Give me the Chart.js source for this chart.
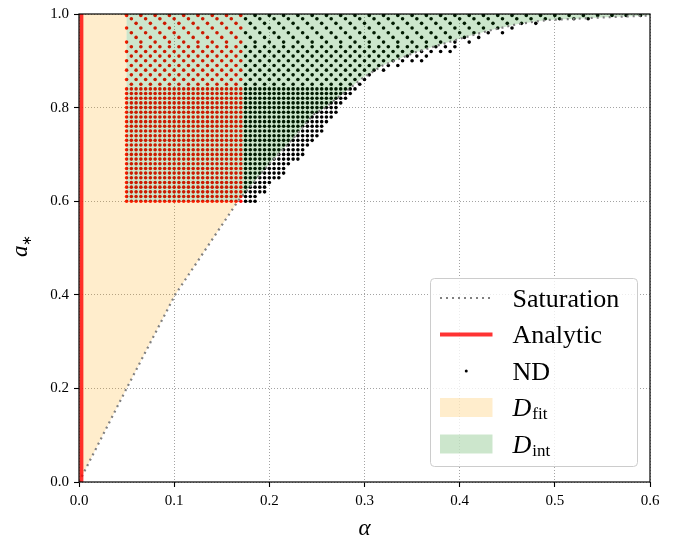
<!DOCTYPE html>
<html>
<head>
<meta charset="utf-8">
<script src="https://cdn.jsdelivr.net/npm/chart.js@4.4.0/dist/chart.umd.min.js"></script>
<style>
    html, body { margin: 0; padding: 0; background: #fff; }
    #wrap { width: 688px; height: 541px; }
</style>
</head>
<body>
<div id="wrap"><canvas id="chart"></canvas></div>
<script>
// Saturation curve
const satAlpha = [0, 0.05, 0.101, 0.167, 0.2, 0.229, 0.246, 0.259, 0.298, 0.319, 0.353, 0.4, 0.43, 0.46, 0.491, 0.523, 0.554, 0.6]
const satSpin = [0, 0.2, 0.4, 0.6, 0.68, 0.743, 0.785, 0.8, 0.863, 0.89, 0.918, 0.947, 0.964, 0.978, 0.987, 0.99, 0.993, 0.997]

// Analytic line (small alpha)
const analyticAlpha = [0.0025, 0.0025]
const analyticSpin = [0, 1]

// Region limits
const fitAlphaMax = 0.05
const intSpinMin = 0.6
const ndRedMax = 0.17

// ND grid: columns, rows, per-row column stride, offset and right end
const ndAlpha = [
    0.05, 0.055, 0.06, 0.065, 0.07, 0.075, 0.08, 0.085, 0.09, 0.095,
    0.1, 0.105, 0.11, 0.115, 0.12, 0.125, 0.13, 0.135, 0.14, 0.145,
    0.15, 0.155, 0.16, 0.165, 0.17, 0.175, 0.18, 0.185, 0.19, 0.195,
    0.2, 0.205, 0.21, 0.215, 0.22, 0.225, 0.23, 0.235, 0.24, 0.245,
    0.25, 0.255, 0.26, 0.265, 0.27, 0.275, 0.28, 0.285, 0.29, 0.295,
    0.3, 0.305, 0.31, 0.315, 0.32, 0.325, 0.33, 0.335, 0.34, 0.345,
    0.35, 0.355, 0.36, 0.365, 0.37, 0.375, 0.38, 0.385, 0.39, 0.395,
    0.4, 0.405, 0.41, 0.415, 0.42, 0.425, 0.43, 0.435, 0.44, 0.445,
    0.45, 0.455, 0.46, 0.465, 0.47, 0.475, 0.48, 0.485, 0.49, 0.495,
    0.5, 0.505, 0.51, 0.515, 0.52, 0.525, 0.53, 0.535, 0.54, 0.545,
    0.55, 0.555, 0.56, 0.565, 0.57, 0.575, 0.58, 0.585, 0.59, 0.595, 0.6
]
const ndSpin = [
    0.6, 0.61, 0.62, 0.63, 0.64, 0.65, 0.66, 0.67, 0.68, 0.69,
    0.7, 0.71, 0.72, 0.73, 0.74, 0.75, 0.76, 0.77, 0.78, 0.79,
    0.8, 0.81, 0.82, 0.83, 0.84, 0.85, 0.86, 0.87, 0.88, 0.89,
    0.9, 0.91, 0.92, 0.93, 0.94, 0.95, 0.96, 0.97, 0.98, 0.99, 0.997
]
const ndStride = [
    1, 1, 1, 1, 1, 1, 1, 1, 1, 1,
    1, 1, 1, 1, 1, 1, 1, 1, 1, 1,
    1, 1, 1, 1, 1, 2, 2, 2, 2, 2,
    2, 2, 2, 2, 3, 3, 3, 3, 3, 3, 3
]
const ndOffset = [
    0, 0, 0, 0, 0, 0, 0, 0, 0, 0,
    0, 0, 0, 0, 0, 0, 0, 0, 0, 0,
    0, 0, 0, 0, 0, 1, 0, 1, 0, 1,
    0, 1, 0, 1, 0, 1, 2, 0, 1, 2, 0
]
const ndEnd = [
    0.185, 0.189, 0.195, 0.199, 0.204, 0.21, 0.215, 0.219, 0.224, 0.23,
    0.235, 0.239, 0.243, 0.247, 0.251, 0.255, 0.258, 0.261, 0.265, 0.27,
    0.274, 0.279, 0.284, 0.289, 0.294, 0.3, 0.305, 0.312, 0.325, 0.34,
    0.36, 0.372, 0.39, 0.4, 0.414, 0.43, 0.45, 0.468, 0.49, 0.545, 0.6
]

// Colours
const fitColor = 'rgba(255, 165, 0, 0.2)'
const intColor = 'rgba(0, 128, 0, 0.2)'
const analyticColor = 'rgba(255, 0, 0, 0.8)'
const satColor = '#808080'
const FONT = '"Liberation Serif", "Times New Roman", serif'

// Bygg punkter
const satPoints = satAlpha.map((x, i) => ({ x: x, y: satSpin[i] }))
const satLow = satPoints.filter((p) => p.y <= intSpinMin)
const satHigh = satPoints.filter((p) => p.y >= intSpinMin)

const fitShape = [
    ...satLow,
    { x: fitAlphaMax, y: intSpinMin },
    { x: fitAlphaMax, y: 1 },
    { x: 0, y: 1 }
]
const intShape = [
    { x: fitAlphaMax, y: intSpinMin },
    ...satHigh,
    { x: 0.6, y: 1 },
    { x: fitAlphaMax, y: 1 }
]

const ndRed = []
const ndBlack = []
ndSpin.forEach((a, j) => {
    ndAlpha.forEach((x, k) => {
        if ((k + ndOffset[j]) % ndStride[j] !== 0 || x > ndEnd[j] + 1e-9) return
        if (x <= ndRedMax + 1e-9) ndRed.push({ x: x, y: a })
        else ndBlack.push({ x: x, y: a })
    })
})

// Ram, axeltitlar och legend
const decorPlugin = {
    id: 'decor',
    afterDraw(chart) {
        const ctx = chart.ctx
        const area = chart.chartArea
        ctx.save()

        // frame
        ctx.strokeStyle = '#000'
        ctx.lineWidth = 1.2
        ctx.strokeRect(area.left, area.top, area.right - area.left, area.bottom - area.top)

        // axis titles
        ctx.fillStyle = '#000'
        ctx.textBaseline = 'alphabetic'
        ctx.textAlign = 'center'
        ctx.font = 'italic 23px ' + FONT
        ctx.fillText('α', (area.left + area.right) / 2, 535)

        ctx.save()
        ctx.translate(27, (area.top + area.bottom) / 2)
        ctx.rotate(-Math.PI / 2)
        ctx.textAlign = 'left'
        ctx.font = 'italic 23px ' + FONT
        const aw = ctx.measureText('a').width
        ctx.fillText('a', -9, 0)
        ctx.font = '13px ' + FONT
        ctx.fillText('∗', -9 + aw, 4)
        ctx.restore()

        // legend box
        const bx = 430.5, by = 278.5, bw = 207, bh = 188, r = 4
        ctx.beginPath()
        ctx.moveTo(bx + r, by)
        ctx.lineTo(bx + bw - r, by)
        ctx.arcTo(bx + bw, by, bx + bw, by + r, r)
        ctx.lineTo(bx + bw, by + bh - r)
        ctx.arcTo(bx + bw, by + bh, bx + bw - r, by + bh, r)
        ctx.lineTo(bx + r, by + bh)
        ctx.arcTo(bx, by + bh, bx, by + bh - r, r)
        ctx.lineTo(bx, by + r)
        ctx.arcTo(bx, by, bx + r, by, r)
        ctx.closePath()
        ctx.fillStyle = 'rgba(255, 255, 255, 0.8)'
        ctx.fill()
        ctx.strokeStyle = '#cccccc'
        ctx.lineWidth = 1
        ctx.stroke()

        const x0 = 440, x1 = 492.5, tx = 512.5
        const rows = [298, 334.5, 371, 407.5, 444]

        ctx.setLineDash([2, 4])
        ctx.strokeStyle = satColor
        ctx.lineWidth = 2.2
        ctx.beginPath()
        ctx.moveTo(x0, rows[0])
        ctx.lineTo(x1, rows[0])
        ctx.stroke()
        ctx.setLineDash([])

        ctx.strokeStyle = analyticColor
        ctx.lineWidth = 4
        ctx.beginPath()
        ctx.moveTo(x0, rows[1])
        ctx.lineTo(x1, rows[1])
        ctx.stroke()

        ctx.fillStyle = '#000'
        ctx.beginPath()
        ctx.arc((x0 + x1) / 2, rows[2], 1.5, 0, Math.PI * 2)
        ctx.fill()

        ctx.fillStyle = fitColor
        ctx.fillRect(x0, rows[3] - 9.5, x1 - x0, 19)
        ctx.fillStyle = intColor
        ctx.fillRect(x0, rows[4] - 9.5, x1 - x0, 19)

        ctx.fillStyle = '#000'
        ctx.textAlign = 'left'
        ctx.font = '26px ' + FONT
        ctx.fillText('Saturation', tx, rows[0] + 8.5)
        ctx.fillText('Analytic', tx, rows[1] + 8.5)
        ctx.fillText('ND', tx, rows[2] + 8.5)

        const subs = ['fit', 'int']
        subs.forEach((s, i) => {
            const y = rows[3 + i] + 8.5
            ctx.font = 'italic 26px ' + FONT
            ctx.fillText('D', tx, y)
            const dw = ctx.measureText('D').width
            ctx.font = '17px ' + FONT
            ctx.fillText(s, tx + dw + 1, y + 3)
        })

        ctx.restore()
    }
}

function axisOptions(max, step, fit) {
    return {
        type: 'linear',
        min: 0,
        max: max,
        afterFit: fit,
        ticks: {
            stepSize: step,
            callback: (v) => v.toFixed(1),
            color: '#000',
            font: { family: FONT, size: 15 },
            padding: 5
        },
        grid: {
            color: 'rgba(140, 140, 140, 0.8)',
            lineWidth: 1,
            drawTicks: true,
            tickLength: 5,
            tickColor: '#000',
            tickWidth: 1.1
        },
        border: { display: false, dash: [1, 2] }
    }
}

new Chart(document.getElementById('chart'), {
    type: 'scatter',
    data: {
        datasets: [
            {
                type: 'line',
                label: 'Analytic',
                data: analyticAlpha.map((x, i) => ({ x: x, y: analyticSpin[i] })),
                borderColor: analyticColor,
                borderWidth: 4,
                pointRadius: 0,
                fill: false,
                order: 0
            },
            {
                type: 'line',
                label: 'Saturation',
                data: satPoints,
                borderColor: satColor,
                borderWidth: 2.2,
                borderDash: [2, 4],
                pointRadius: 0,
                fill: false,
                order: 1
            },
            {
                type: 'line',
                label: 'D_int',
                data: intShape,
                borderWidth: 0,
                borderColor: 'rgba(0,0,0,0)',
                backgroundColor: intColor,
                pointRadius: 0,
                fill: 'shape',
                order: 2
            },
            {
                type: 'line',
                label: 'D_fit',
                data: fitShape,
                borderWidth: 0,
                borderColor: 'rgba(0,0,0,0)',
                backgroundColor: fitColor,
                pointRadius: 0,
                fill: 'shape',
                order: 3
            },
            {
                label: 'ND fit',
                data: ndRed,
                backgroundColor: '#ff0000',
                borderWidth: 0,
                pointRadius: 1.8,
                order: 4
            },
            {
                label: 'ND',
                data: ndBlack,
                backgroundColor: '#000000',
                borderWidth: 0,
                pointRadius: 1.8,
                order: 5
            }
        ]
    },
    options: {
        responsive: true,
        maintainAspectRatio: false,
        animation: false,
        layout: { padding: { top: 8, right: 38, left: 0, bottom: 0 } },
        plugins: {
            legend: { display: false },
            tooltip: { enabled: false }
        },
        scales: {
            x: axisOptions(0.6, 0.1, (s) => { s.height = 59 }),
            y: axisOptions(1, 0.2, (s) => { s.width = 79 })
        }
    },
    plugins: [decorPlugin]
})
</script>
</body>
</html>
